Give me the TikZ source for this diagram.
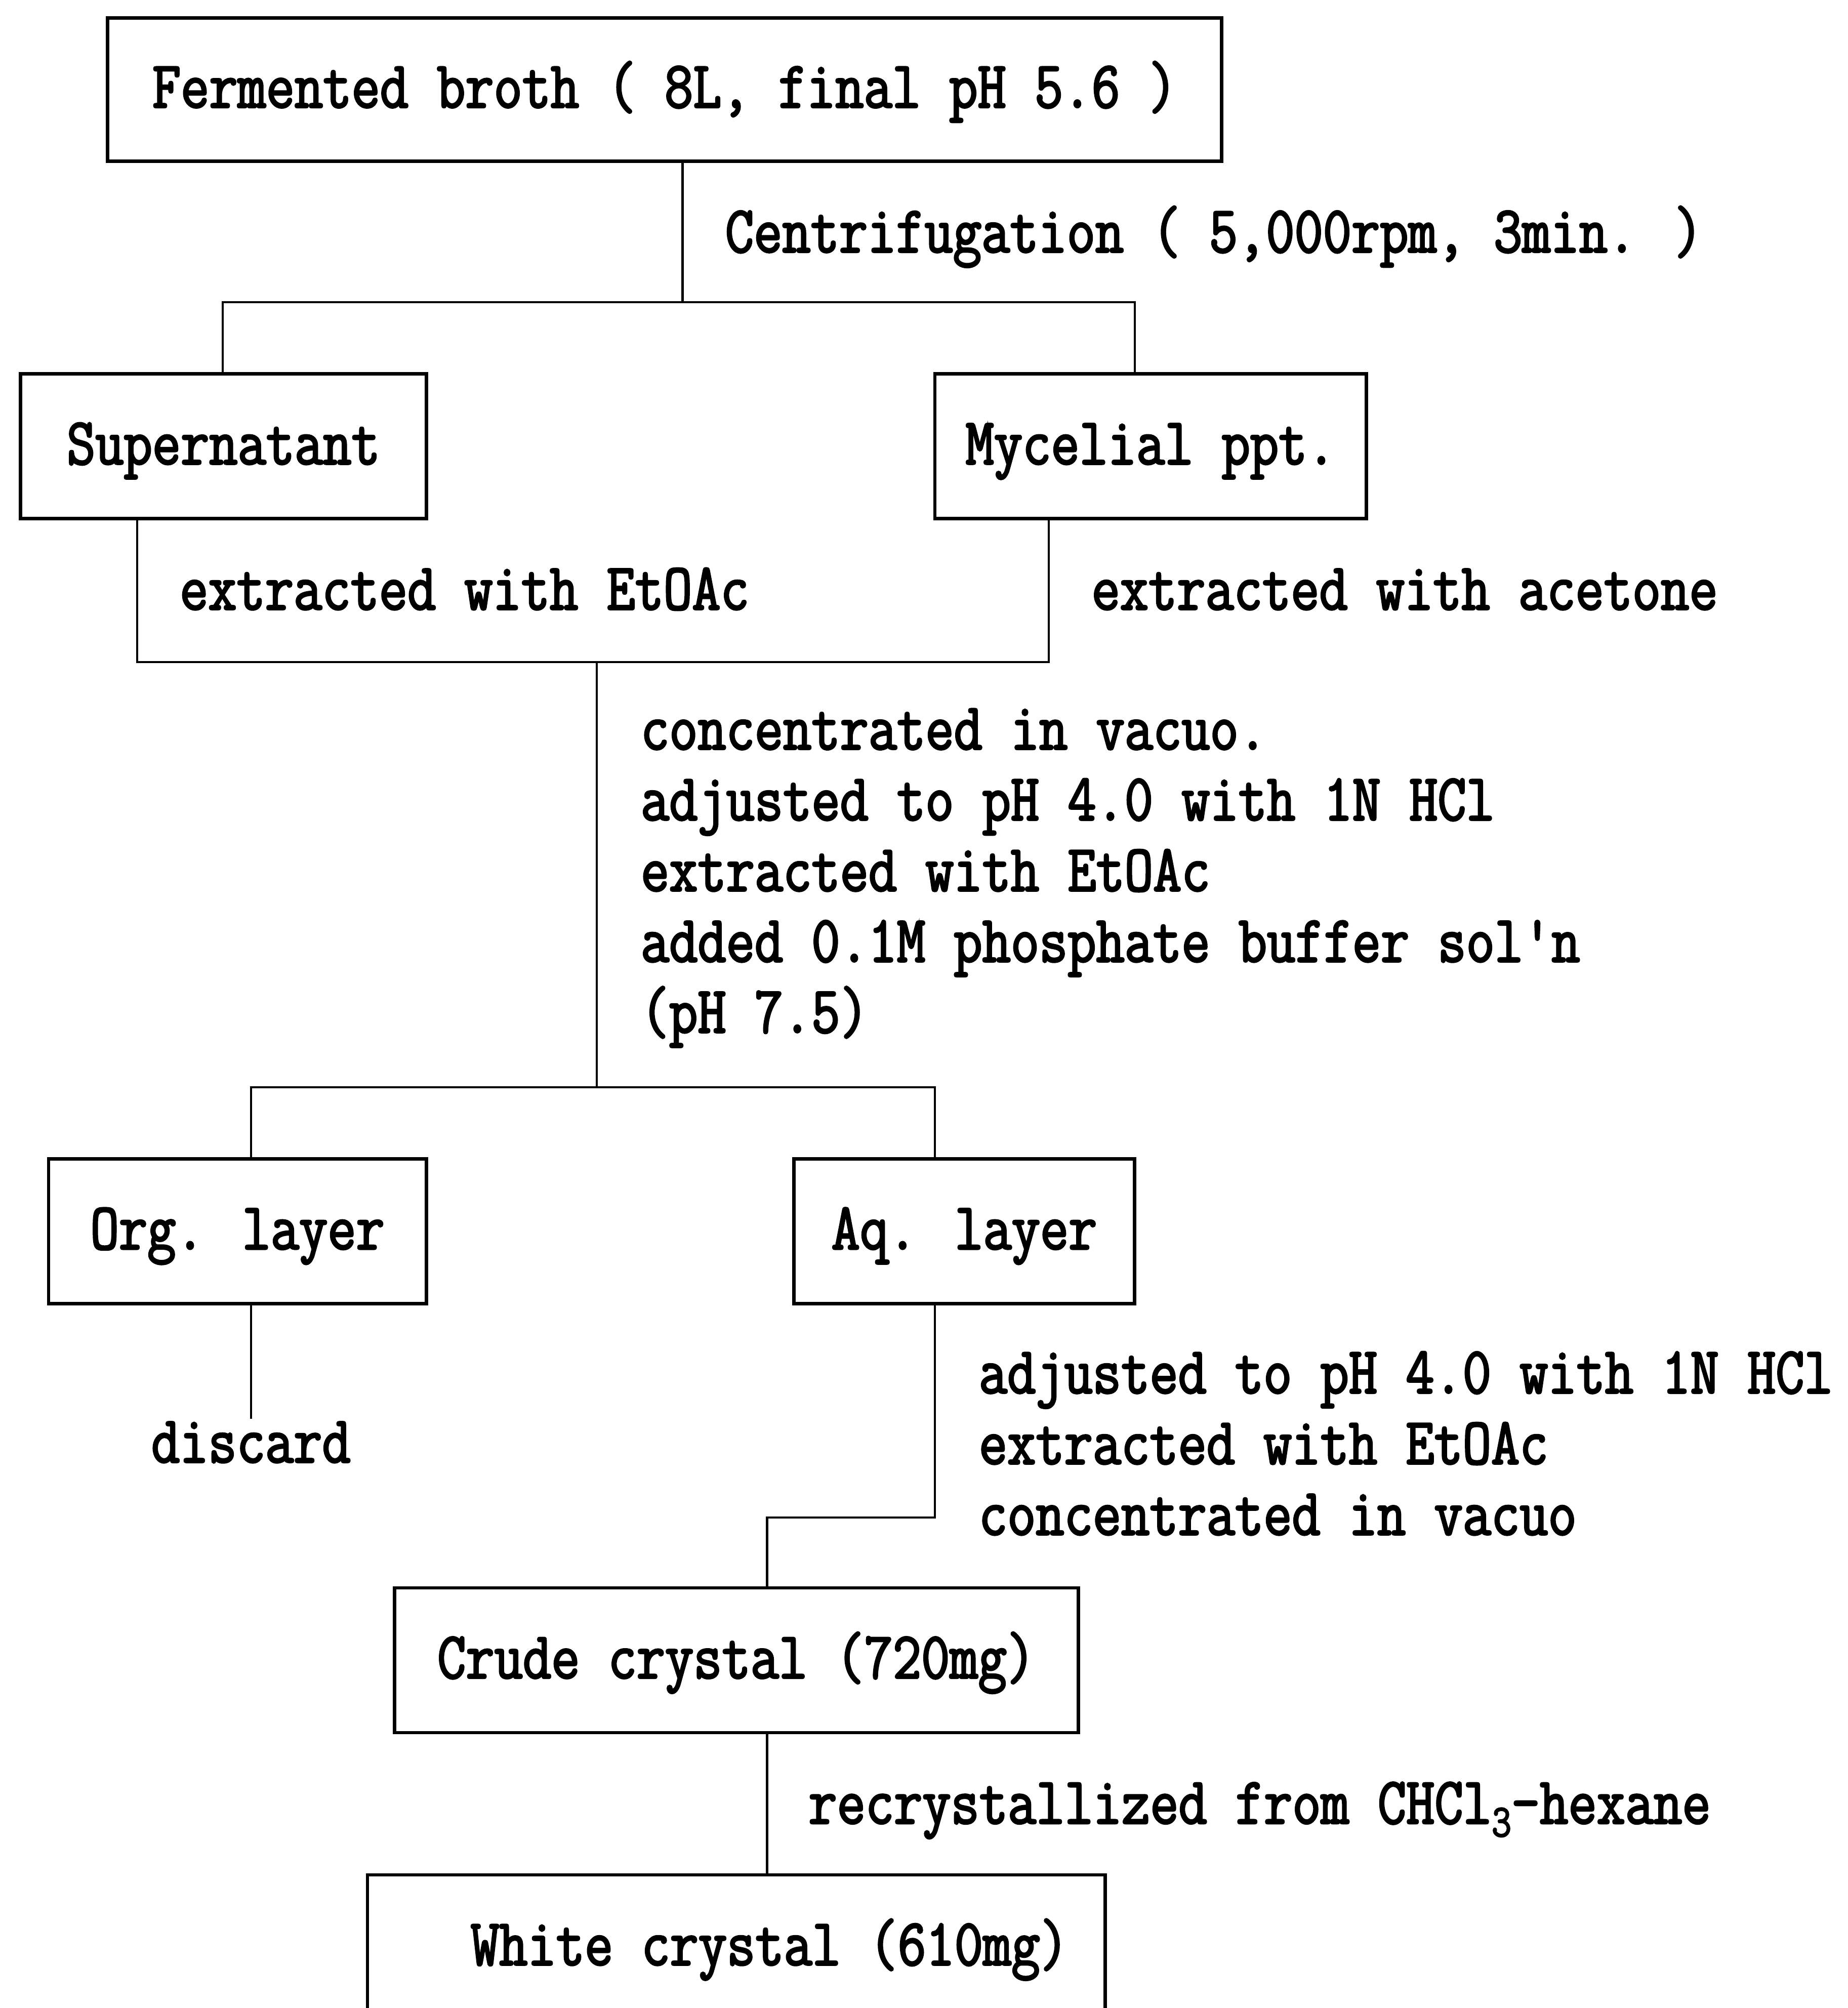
\documentclass[tikz,border=0pt]{standalone}
\usepackage{fontspec}
\newfontfamily\tw{Latin Modern Mono}[FakeStretch=0.83,FakeBold=2.5]
\newcommand\tfont{\tw\fontsize{26pt}{27.65pt}\selectfont}
\newcommand\subthree{\raisebox{-0.45ex}{\fontsize{18pt}{18pt}\selectfont 3}}
\tikzset{
  box/.style={draw, line width=1.3pt, inner sep=0pt, minimum height=56.5pt,
              text height=20pt, text depth=6pt, font=\tfont},
  lbl/.style={inner sep=0pt, font=\tfont, align=left},
  conn/.style={line width=0.8pt}
}
\begin{document}
\begin{tikzpicture}[x=0.5pt,y=-0.5pt]
\useasboundingbox (0,0) rectangle (1443,1568);
\clip (0,0) rectangle (1443,1568);
% boxes
\node[box, minimum width=435pt, minimum height=56pt] (broth) at (519,70) {Fermented broth ( 8L, final pH 5.6 )};
\node[box, minimum width=158.5pt] (super) at (174.5,348.5) {Supernatant};
\node[box, minimum width=168.5pt] (myc) at (898.5,348.5) {Mycelial ppt.};
\node[box, minimum width=147.5pt] (org) at (185.5,961.5) {Org. layer};
\node[box, minimum width=133pt] (aq) at (753,961.5) {Aq. layer};
\node[box, minimum width=267pt] (crude) at (575,1296.5) {Crude crystal (720mg)};
\node[box, minimum width=288pt] (white) at (575,1520.5) {\hspace*{26pt}White crystal (610mg)};
% labels
\node[lbl, anchor=base west] (cent) at (566,197) {Centrifugation ( 5,000rpm, 3min. )};
\node[lbl, anchor=base west] (extE) at (140,476) {extracted with EtOAc};
\node[lbl, anchor=base west] (extA) at (852,476) {extracted with acetone};
\node[lbl, anchor=north west] (steps1) at (500,553) {concentrated in vacuo.\\adjusted to pH 4.0 with 1N HCl\\extracted with EtOAc\\added 0.1M phosphate buffer sol'n\\(pH 7.5)};
\node[lbl, anchor=north west] (steps2) at (764,1055) {adjusted to pH 4.0 with 1N HCl\\extracted with EtOAc\\concentrated in vacuo};
\node[lbl, anchor=base west] (recr) at (631,1424) {recrystallized from CHCl\subthree-hexane};
\node[lbl, anchor=base] (discard) at (196,1142) {discard};
% junction coordinates
\coordinate (j1) at (533,236);
\coordinate (j1L) at (174,236);
\coordinate (j1R) at (886,236);
\coordinate (m1) at (107,517);
\coordinate (m2) at (819,517);
\coordinate (m3) at (466,517);
\coordinate (j2) at (466,849);
\coordinate (j2L) at (196,849);
\coordinate (j2R) at (730,849);
\coordinate (d1) at (196,1108);
\coordinate (a1) at (730,1185);
\coordinate (a2) at (599,1185);
% connectors
\draw[conn] (j1 |- broth.south) -- (j1);
\draw[conn] (j1L |- super.north) -- (j1L) -- (j1R) -- (j1R |- myc.north);
\draw[conn] (m1 |- super.south) -- (m1) -- (m2) -- (m2 |- myc.south);
\draw[conn] (m3) -- (j2);
\draw[conn] (j2L |- org.north) -- (j2L) -- (j2R) -- (j2R |- aq.north);
\draw[conn] (j2L |- org.south) -- (d1);
\draw[conn] (a1 |- aq.south) -- (a1) -- (a2) -- (a2 |- crude.north);
\draw[conn] (a2 |- crude.south) -- (a2 |- white.north);
\end{tikzpicture}
\end{document}
